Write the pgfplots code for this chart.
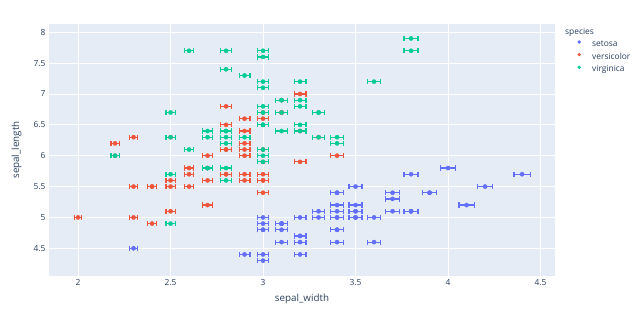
\documentclass[border=0pt]{standalone}
\usepackage{pgfplots}
\pgfplotsset{compat=1.18}
\usepackage{pgfplotstable}
\usepackage{fontspec}
\setmainfont{Open Sans}
\definecolor{bgc}{HTML}{E5ECF6}
\definecolor{textc}{HTML}{2A3F5F}
\definecolor{cset}{HTML}{636EFA}
\definecolor{cver}{HTML}{EF553B}
\definecolor{cvir}{HTML}{00CC96}
\newcommand{\tickfont}{\fontsize{8.4bp}{10bp}\selectfont}
\newcommand{\labfont}{\fontsize{9.8bp}{12bp}\selectfont}

\pgfplotstableread{
x y ex
3.5 5.1 0.035
3.0 4.9 0.030
3.2 4.7 0.032
3.1 4.6 0.031
3.6 5.0 0.036
3.9 5.4 0.039
3.4 4.6 0.034
3.4 5.0 0.034
2.9 4.4 0.029
3.1 4.9 0.031
3.7 5.4 0.037
3.4 4.8 0.034
3.0 4.8 0.030
3.0 4.3 0.030
4.0 5.8 0.040
4.4 5.7 0.044
3.9 5.4 0.039
3.5 5.1 0.035
3.8 5.7 0.038
3.8 5.1 0.038
3.4 5.4 0.034
3.7 5.1 0.037
3.6 4.6 0.036
3.3 5.1 0.033
3.4 4.8 0.034
3.0 5.0 0.030
3.4 5.0 0.034
3.5 5.2 0.035
3.4 5.2 0.034
3.2 4.7 0.032
3.1 4.8 0.031
3.4 5.4 0.034
4.1 5.2 0.041
4.2 5.5 0.042
3.1 4.9 0.031
3.2 5.0 0.032
3.5 5.5 0.035
3.1 4.9 0.031
3.0 4.4 0.030
3.4 5.1 0.034
3.5 5.0 0.035
2.3 4.5 0.023
3.2 4.4 0.032
3.5 5.0 0.035
3.8 5.1 0.038
3.0 4.8 0.030
3.8 5.1 0.038
3.2 4.6 0.032
3.7 5.3 0.037
3.3 5.0 0.033
}\setosa

\pgfplotstableread{
x y ex
3.2 7.0 0.032
3.2 6.4 0.032
3.1 6.9 0.031
2.3 5.5 0.023
2.8 6.5 0.028
2.8 5.7 0.028
3.3 6.3 0.033
2.4 4.9 0.024
2.9 6.6 0.029
2.7 5.2 0.027
2.0 5.0 0.020
3.0 5.9 0.030
2.2 6.0 0.022
2.9 6.1 0.029
2.9 5.6 0.029
3.1 6.7 0.031
3.0 5.6 0.030
2.7 5.8 0.027
2.2 6.2 0.022
2.5 5.6 0.025
3.2 5.9 0.032
2.8 6.1 0.028
2.5 6.3 0.025
2.8 6.1 0.028
2.9 6.4 0.029
3.0 6.6 0.030
2.8 6.8 0.028
3.0 6.7 0.030
2.9 6.0 0.029
2.6 5.7 0.026
2.4 5.5 0.024
2.4 5.5 0.024
2.7 5.8 0.027
2.7 6.0 0.027
3.0 5.4 0.030
3.4 6.0 0.034
3.1 6.7 0.031
2.3 6.3 0.023
3.0 5.6 0.030
2.5 5.5 0.025
2.6 5.5 0.026
3.0 6.1 0.030
2.6 5.8 0.026
2.3 5.0 0.023
2.7 5.6 0.027
3.0 5.7 0.030
2.9 5.7 0.029
2.9 6.2 0.029
2.5 5.1 0.025
2.8 5.7 0.028
}\versicolor

\pgfplotstableread{
x y ex
3.3 6.3 0.033
2.7 5.8 0.027
3.0 7.1 0.030
2.9 6.3 0.029
3.0 6.5 0.030
3.0 7.6 0.030
2.5 4.9 0.025
2.9 7.3 0.029
2.5 6.7 0.025
3.6 7.2 0.036
3.2 6.5 0.032
2.7 6.4 0.027
3.0 6.8 0.030
2.5 5.7 0.025
2.8 5.8 0.028
3.2 6.4 0.032
3.0 6.5 0.030
3.8 7.7 0.038
2.6 7.7 0.026
2.2 6.0 0.022
3.2 6.9 0.032
2.8 5.6 0.028
2.8 7.7 0.028
2.7 6.3 0.027
3.3 6.7 0.033
3.2 7.2 0.032
2.8 6.2 0.028
3.0 6.1 0.030
2.8 6.4 0.028
3.0 7.2 0.030
2.8 7.4 0.028
3.8 7.9 0.038
2.8 6.4 0.028
2.8 6.3 0.028
2.6 6.1 0.026
3.0 7.7 0.030
3.4 6.3 0.034
3.1 6.4 0.031
3.0 6.0 0.030
3.1 6.9 0.031
3.1 6.7 0.031
3.1 6.9 0.031
2.7 5.8 0.027
3.2 6.8 0.032
3.3 6.7 0.033
3.0 6.7 0.030
2.5 6.3 0.025
3.0 6.5 0.030
3.4 6.2 0.034
3.0 5.9 0.030
}\virginica

\begin{document}
\begin{tikzpicture}
\path[use as bounding box] (0,0) rectangle (640bp,318bp);
\begin{axis}[
  at={(49bp,42bp)}, anchor=south west,
  scale only axis, width=506bp, height=252bp,
  xmin=1.843, xmax=4.578, ymin=4.051, ymax=8.134,
  xtick={2,2.5,3,3.5,4,4.5},
  ytick={4.5,5,5.5,6,6.5,7,7.5,8},
  axis background/.style={fill=bgc},
  grid=major,
  major grid style={white, line width=0.8bp},
  axis line style={draw=none},
  major tick length=0pt,
  tick label style={font=\tickfont, text=textc},
  /pgf/number format/assume math mode=true,
  xlabel={sepal\_width}, ylabel={sepal\_length},
  every axis x label/.style={at={(axis description cs:0.5,-0.0913)}, anchor=center, font=\labfont, text=textc},
  every axis y label/.style={at={(axis description cs:-0.0642,0.5)}, anchor=center, rotate=90, font=\labfont, text=textc},
  legend style={at={(axis description cs:1,1)}, anchor=north west,
    xshift=22.2bp, yshift=-16bp,
    draw=none, fill=none, inner sep=0pt, row sep=4.8bp,
    font=\tickfont, text=textc,
    nodes={inner sep=0pt, text height=6bp, text depth=1.5bp},
    /tikz/every odd column/.append style={column sep=11.2bp}},
  legend cell align=left,
  legend image code/.code={\fill[#1, draw=none] (0bp,2.3bp) circle (1.8bp);},
]
\addplot[only marks, mark=*, mark size=2.1bp, color=cset, mark options={draw=none, fill=cset},
  error bars/.cd, x dir=both, x explicit, error mark=|,
  error bar style={line width=1.2bp, cset},
  error mark options={line width=1.2bp, mark size=2.6bp, cset}]
  table[x=x, y=y, x error=ex] {\setosa};
\addlegendentry{setosa}
\addplot[only marks, mark=*, mark size=2.1bp, color=cver, mark options={draw=none, fill=cver},
  error bars/.cd, x dir=both, x explicit, error mark=|,
  error bar style={line width=1.2bp, cver},
  error mark options={line width=1.2bp, mark size=2.6bp, cver}]
  table[x=x, y=y, x error=ex] {\versicolor};
\addlegendentry{versicolor}
\addplot[only marks, mark=*, mark size=2.1bp, color=cvir, mark options={draw=none, fill=cvir},
  error bars/.cd, x dir=both, x explicit, error mark=|,
  error bar style={line width=1.2bp, cvir},
  error mark options={line width=1.2bp, mark size=2.6bp, cvir}]
  table[x=x, y=y, x error=ex] {\virginica};
\addlegendentry{virginica}
\end{axis}
\node[anchor=base west, font=\tickfont, text=textc, inner sep=0pt] at (565bp,283bp) {species};
\end{tikzpicture}
\end{document}
